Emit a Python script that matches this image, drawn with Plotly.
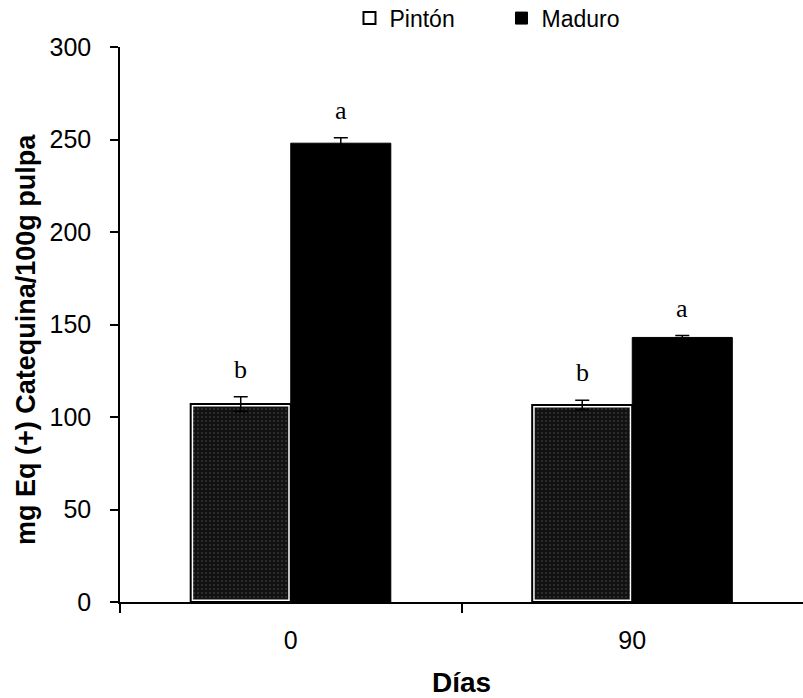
import plotly.graph_objects as go

# Days of storage and total flavonoid content per ripening stage
dias = ["0", "90"]
pinton = [107, 106.5]
pinton_err = [4, 2.5]
maduro = [248, 143]
maduro_err = [3, 1]
letras_pinton = ["b", "b"]
letras_maduro = ["a", "a"]

x_pos = [0, 1]
bar_w = 0.293

fig = go.Figure()

# Stippled fill of the Pintón bars (white rim inside the outline)
fig.add_trace(go.Bar(
    name="Pintón",
    x=x_pos, y=pinton, width=bar_w, offset=-bar_w,
    showlegend=False, hoverinfo="skip",
    marker=dict(
        color="#111111",
        line=dict(color="white", width=5),
        pattern=dict(shape=".", fgcolor="#9a9a9a", bgcolor="#111111", size=4, solidity=0.1),
    ),
))
# Outline and error bars of the Pintón bars
fig.add_trace(go.Bar(
    name="Pintón",
    x=x_pos, y=pinton, width=bar_w, offset=-bar_w,
    error_y=dict(type="data", array=pinton_err, color="black", thickness=1.5, width=7),
    marker=dict(color="rgba(0,0,0,0)", line=dict(color="black", width=2)),
))
fig.add_trace(go.Bar(
    name="Maduro",
    x=x_pos, y=maduro, width=bar_w, offset=0,
    error_y=dict(type="data", array=maduro_err, color="black", thickness=1.5, width=7),
    marker=dict(color="black", line=dict(color="black", width=1)),
))

# Significance letters above each bar
half = bar_w / 2
for i, xv in enumerate(x_pos):
    fig.add_annotation(x=xv - half, y=pinton[i] + pinton_err[i], text=letras_pinton[i],
                       showarrow=False, yanchor="bottom", yshift=11,
                       font=dict(family="Liberation Serif", size=26, color="black"))
    fig.add_annotation(x=xv + half, y=maduro[i] + maduro_err[i], text=letras_maduro[i],
                       showarrow=False, yanchor="bottom", yshift=11,
                       font=dict(family="Liberation Serif", size=26, color="black"))

# Y-axis title, set slightly below the vertical centre of the axis
fig.add_annotation(
    text="<b>mg Eq (+) Catequina/100g pulpa</b>",
    xref="paper", yref="paper", x=-94 / 683, y=0.472,
    xanchor="center", yanchor="middle", textangle=-90, showarrow=False,
    font=dict(family="Liberation Sans", size=27, color="black"),
)

fig.update_layout(
    width=803, height=698,
    margin=dict(l=120, r=0, t=47, b=96, autoexpand=False),
    paper_bgcolor="white", plot_bgcolor="white",
    barmode="overlay",
    font=dict(family="Liberation Sans", size=18, color="black"),
    legend=dict(orientation="h", x=0.336, xanchor="left", y=1.052, yanchor="middle",
                font=dict(size=23), itemwidth=30, entrywidth=107,
                traceorder="normal", bgcolor="rgba(0,0,0,0)"),
    xaxis=dict(
        range=[-0.5, 1.5],
        tickvals=x_pos, ticktext=dias, ticks="", ticklabelstandoff=15,
        minor=dict(tickvals=[-0.5, 0.5], ticks="outside", ticklen=9, tickcolor="black", tickwidth=1.5),
        showline=True, linecolor="black", linewidth=1.5,
        showgrid=False, zeroline=False,
        tickfont=dict(size=25),
        title=dict(text="<b>Días</b>", font=dict(size=28), standoff=21),
    ),
    yaxis=dict(
        range=[0, 300], tickvals=[0, 50, 100, 150, 200, 250, 300],
        ticks="outside", ticklen=8, tickwidth=1.5, tickcolor="black",
        ticklabelstandoff=14,
        showline=True, linecolor="black", linewidth=1.5,
        showgrid=False, zeroline=False,
        tickfont=dict(size=25),
    ),
)

fig.write_html("out.html")
